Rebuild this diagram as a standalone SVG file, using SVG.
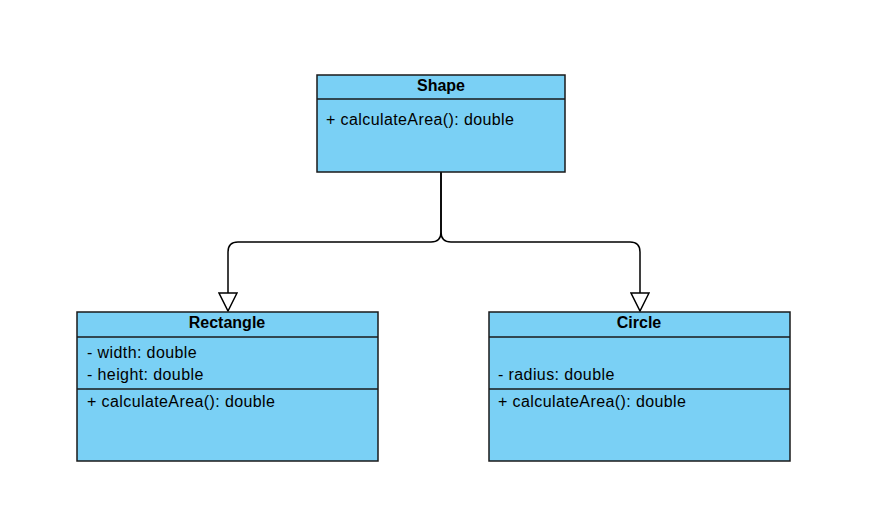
<svg xmlns="http://www.w3.org/2000/svg" width="888" height="528" viewBox="0 0 888 528">
  <defs>
    <style>
      .box { fill: #7ad0f5; stroke: #1a1a1a; stroke-width: 1.5; }
      .div { stroke: #1a1a1a; stroke-width: 1.5; fill: none; }
      .title { font-family: "Liberation Sans", Arial, sans-serif; font-size: 16px; font-weight: bold; fill: #000; text-anchor: middle; }
      .member { font-family: "Liberation Sans", Arial, sans-serif; font-size: 16px; letter-spacing: 0.4px; fill: #000; }
      .edge { fill: none; stroke: #000; stroke-width: 1.5; }
    </style>
    <marker id="inherit" viewBox="0 0 20 20" refX="19" refY="10" markerWidth="20" markerHeight="20" markerUnits="userSpaceOnUse" orient="auto">
      <path d="M1,1 L19,10 L1,19 Z" fill="#fff" stroke="#000" stroke-width="1.5"/>
    </marker>
  </defs>
  <rect width="888" height="528" fill="#fff"/>

  <g id="connectors">
    <path class="edge" d="M441,172 V232 Q441,242 431,242 H238 Q228,242 228,252 V311" marker-end="url(#inherit)"/>
    <path class="edge" d="M441,172 V232 Q441,242 451,242 H630 Q640,242 640,252 V311" marker-end="url(#inherit)"/>
  </g>

  <g id="shape">
    <rect class="box" x="317" y="75" width="248" height="97"/>
    <line class="div" x1="317" y1="99" x2="565" y2="99"/>
    <text class="title" x="441" y="91">Shape</text>
    <text class="member" x="326" y="125">+ calculateArea(): double</text>
  </g>

  <g id="rectangle">
    <rect class="box" x="77" y="312" width="301" height="149"/>
    <line class="div" x1="77" y1="337" x2="378" y2="337"/>
    <line class="div" x1="77" y1="389" x2="378" y2="389"/>
    <text class="title" x="227" y="328">Rectangle</text>
    <text class="member" x="87" y="358">- width: double</text>
    <text class="member" x="87" y="380">- height: double</text>
    <text class="member" x="87" y="407">+ calculateArea(): double</text>
  </g>

  <g id="circle">
    <rect class="box" x="489" y="312" width="301" height="149"/>
    <line class="div" x1="489" y1="337" x2="790" y2="337"/>
    <line class="div" x1="489" y1="389" x2="790" y2="389"/>
    <text class="title" x="639" y="328">Circle</text>
    <text class="member" x="498" y="380">- radius: double</text>
    <text class="member" x="498" y="407">+ calculateArea(): double</text>
  </g>
</svg>
